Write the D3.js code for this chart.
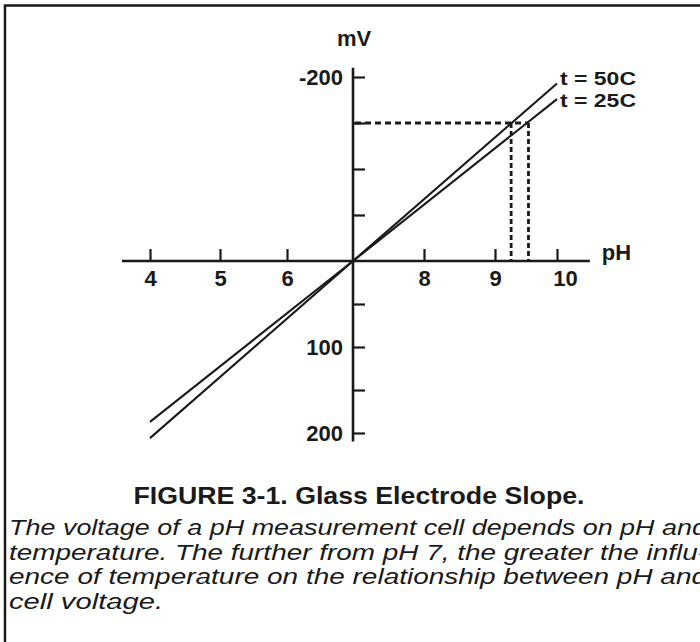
<!DOCTYPE html>
<html>
<head>
<meta charset="utf-8">
<script src="https://cdn.jsdelivr.net/npm/d3@7"></script>
<style>
  html, body { margin: 0; padding: 0; background: #fff; }
  svg { display: block; }
  text { font-family: "Liberation Sans", Arial, sans-serif; fill: #1a1a1a; }
</style>
</head>
<body>
<svg id="chart" width="700" height="642"></svg>
<script>
// ---- data ----
const phTicks = [4, 5, 6, 8, 9, 10];
const mvTicks = [-200, -150, -100, -50, 50, 100, 150, 200];
const mvLabelled = [-200, 100, 200];
const phExtent = [3.6, 10.53];
const mvExtent = [-210, 210];
const line25 = [{ph: 4, mv: 187}, {ph: 7, mv: 0}, {ph: 10, mv: -176}];
const line50 = [{ph: 4, mv: 206}, {ph: 7, mv: 0}, {ph: 10, mv: -193}];
const seriesNames = ["t = 50C", "t = 25C"];
const dashMv = -150;
const dashPh = [9.26, 9.54];
const titleText = "FIGURE 3-1. Glass Electrode Slope.";
const captionLines = [
  "The voltage of a pH measurement cell depends on pH and",
  "temperature. The further from pH 7, the greater the influ-",
  "ence of temperature on the relationship between pH and",
  "cell voltage."
];

// ---- drawing ----
const svg = d3.select("#chart");
const ink = "#1a1a1a";

// hand-drawn axes: polylinear scales
const x = d3.scaleLinear()
  .domain([4, 5, 6, 7, 8, 9, 10])
  .range([150, 220, 287, 353, 424, 495, 557]);
const y = d3.scaleLinear()
  .domain([-200, 0, 200])
  .range([77, 261, 433]);

// frame
svg.append("path")
  .attr("d", "M5,642 V5.5 H700")
  .attr("fill", "none").attr("stroke", ink).attr("stroke-width", 2.5);

// axis lines
svg.append("line")
  .attr("x1", x(phExtent[0])).attr("x2", x(phExtent[1]))
  .attr("y1", y(0)).attr("y2", y(0))
  .attr("stroke", ink).attr("stroke-width", 2.6);
svg.append("line")
  .attr("x1", x(7)).attr("x2", x(7))
  .attr("y1", y(mvExtent[0])).attr("y2", y(mvExtent[1]))
  .attr("stroke", ink).attr("stroke-width", 2.6);

// x axis ticks & labels
const xAxis = d3.axisBottom(x).tickValues(phTicks).tickSize(-12).tickSizeOuter(0).tickPadding(9)
  .tickFormat(d3.format("d"));
const gx = svg.append("g").attr("transform", `translate(0,${y(0)})`).call(xAxis);
gx.select(".domain").remove();
gx.selectAll(".tick line").attr("stroke", ink).attr("stroke-width", 2.2);
gx.selectAll(".tick text")
  .attr("font-family", "Liberation Sans, Arial, sans-serif")
  .attr("font-size", 22).attr("font-weight", "bold").attr("fill", ink)
  .attr("dx", d => d === 10 ? 8 : 0);

// y axis ticks & labels
const yAxis = d3.axisLeft(y).tickValues(mvTicks).tickSize(-12).tickSizeOuter(0).tickPadding(10)
  .tickFormat(d => mvLabelled.includes(d) ? String(d) : "");
const gy = svg.append("g").attr("transform", `translate(${x(7)},0)`).call(yAxis);
gy.select(".domain").remove();
gy.selectAll(".tick line").attr("stroke", ink).attr("stroke-width", 2.2);
gy.selectAll(".tick text")
  .attr("font-family", "Liberation Sans, Arial, sans-serif")
  .attr("font-size", 22).attr("font-weight", "bold").attr("fill", ink);

// axis titles
svg.append("text").attr("x", x(7) + 1).attr("y", 46)
  .attr("text-anchor", "middle").attr("font-size", 22).attr("font-weight", "bold").text("mV");
svg.append("text").attr("x", x(phExtent[1]) + 12).attr("y", y(0) - 1)
  .attr("font-size", 22).attr("font-weight", "bold").text("pH");

// dashed guide lines
const dashG = svg.append("g").attr("fill", "none").attr("stroke", ink).attr("stroke-width", 2.8);
dashG.append("line")
  .attr("x1", x(7) + 2).attr("x2", x(dashPh[1]))
  .attr("y1", y(dashMv)).attr("y2", y(dashMv))
  .attr("stroke-dasharray", "6,4");
dashPh.forEach(p => {
  dashG.append("line")
    .attr("x1", x(p)).attr("x2", x(p))
    .attr("y1", y(dashMv)).attr("y2", y(0))
    .attr("stroke-dasharray", "5,3");
});

// data lines
const lineGen = d3.line().x(d => x(d.ph)).y(d => y(d.mv));
const labelDy = [2, 8];
[line50, line25].forEach((data, i) => {
  svg.append("path").datum(data)
    .attr("d", lineGen)
    .attr("fill", "none").attr("stroke", ink).attr("stroke-width", 2.1);
  const last = data[data.length - 1];
  svg.append("text")
    .attr("x", x(last.ph) + 3).attr("y", y(last.mv) + labelDy[i])
    .attr("font-size", 19).attr("font-weight", "bold")
    .attr("textLength", 76).attr("lengthAdjust", "spacingAndGlyphs")
    .text(seriesNames[i]);
});

// title
svg.append("text").attr("x", 359).attr("y", 504)
  .attr("text-anchor", "middle").attr("font-size", 24).attr("font-weight", "bold")
  .attr("textLength", 451).attr("lengthAdjust", "spacingAndGlyphs")
  .text(titleText);

// caption (justified, slightly wide lettering)
captionLines.forEach((t, i) => {
  const last = i === captionLines.length - 1;
  svg.append("text")
    .attr("x", 9).attr("y", 535 + i * 24.5)
    .attr("font-size", 22).attr("font-style", "italic")
    .attr("textLength", last ? 154 : 698).attr("lengthAdjust", "spacingAndGlyphs")
    .text(t);
});
</script>
</body>
</html>
